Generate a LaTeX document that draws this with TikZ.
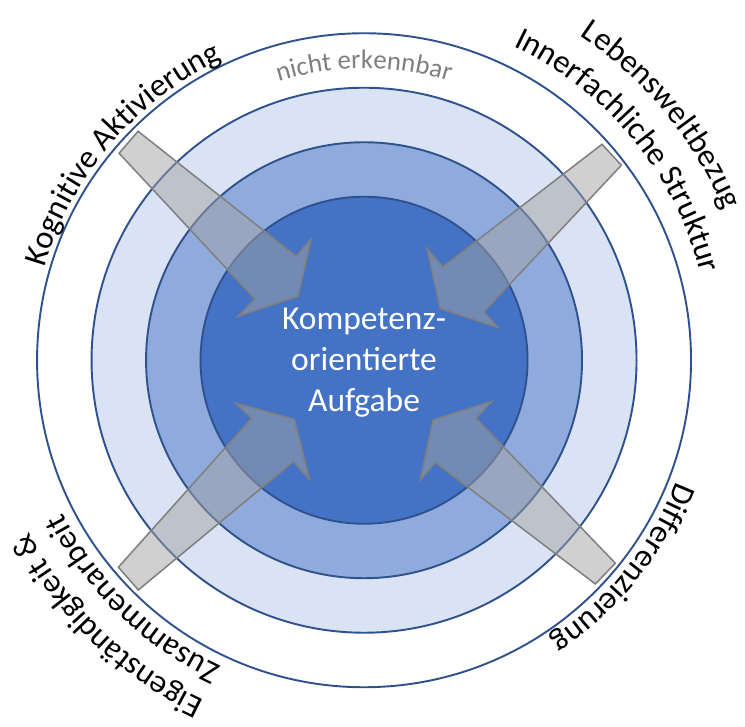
\documentclass[tikz,border=0pt]{standalone}
\usepackage{fontspec}
\setmainfont{Carlito}
\usetikzlibrary{decorations.text}
\definecolor{ringline}{HTML}{2F528F}
\definecolor{ringpale}{HTML}{DAE3F3}
\definecolor{ringmid}{HTML}{8FAADC}
\definecolor{ringcore}{HTML}{4472C4}
\definecolor{arrowfill}{HTML}{A3A3A3}
\definecolor{arrowline}{HTML}{808080}
\definecolor{hintgray}{HTML}{7F7F7F}
\newcommand{\ringfont}{\fontsize{17}{20}\selectfont}
\newcommand{\hintfont}{\fontsize{14}{17}\selectfont}
\tikzset{
  ring/.style={draw=ringline, line width=1pt},
  wedgearrow/.style={fill=arrowfill, fill opacity=0.5, draw=arrowline, line width=0.8pt, line join=miter},
  arctext/.style={decorate, decoration={text along path, text align=center, text={|\ringfont|#1}}}
}
\begin{document}
\begin{tikzpicture}
	\useasboundingbox (-6.68,-6.72) rectangle (6.99,6.61);
	\coordinate (O) at (0,0);

	% rings
	\draw [ring, fill=white] (O) circle (6);
	\draw [ring, fill=ringpale] (O) circle (5);
	\draw [ring, fill=ringmid] (O) circle (4);
	\draw [ring, fill=ringcore] (O) circle (3);

	% arrows towards the centre
	\draw [wedgearrow] (-4.147,4.202) -- (-1.248,1.908) -- (-0.972,2.220) -- (-1.211,1.174)
		-- (-2.312,0.807) -- (-2.000,1.119) -- (-4.495,3.798) -- cycle;% upper left
	\draw [wedgearrow] (4.367,3.963) -- (1.444,1.712) -- (1.156,2.050) -- (1.400,0.949)
		-- (2.459,0.600) -- (2.196,0.886) -- (4.721,3.578) -- cycle;% upper right
	\draw [wedgearrow] (-4.508,-3.798) -- (-2.061,-1.064) -- (-2.349,-0.789) -- (-1.279,-1.083)
		-- (-1.004,-2.183) -- (-1.297,-1.859) -- (-4.141,-4.215) -- cycle;% lower left
	\draw [wedgearrow] (4.611,-3.725) -- (2.055,-1.064) -- (2.336,-0.758) -- (1.266,-1.095)
		-- (1.033,-2.196) -- (1.308,-1.877) -- (4.244,-4.105) -- cycle;% lower right

	% texts on the rings
	\path [decorate, decoration={text along path, text align=center, text color=hintgray,
		text={|\hintfont|nicht erkennbar}}] (130:5.35) arc [start angle=130, end angle=50, radius=5.35];
	\path [arctext={Kognitive Aktivierung}] (179.5:6.1) arc [start angle=179.5, end angle=99.5, radius=6.1];
	\path [arctext={Lebensweltbezug}] (79.5:7.15) arc [start angle=79.5, end angle=-0.5, radius=7.15];
	\path [arctext={Innerfachliche Struktur}] (79.5:6.38) arc [start angle=79.5, end angle=-0.5, radius=6.38];
	\path [arctext={Differenzierung}] (1.3:6.15) arc [start angle=1.3, end angle=-78.7, radius=6.15];
	\path [arctext={Eigenständigkeit {\&}}] (-94:6.9) arc [start angle=-94, end angle=-174, radius=6.9];
	\path [arctext={Zusammenarbeit}] (-94:6.2) arc [start angle=-94, end angle=-174, radius=6.2];

	\node [align=center, text=white, inner sep=0pt, font=\fontsize{17.5}{21.4}\selectfont] (task) at (0,-0.04)
		{Kompetenz-\\orientierte\\Aufgabe};
\end{tikzpicture}
\end{document}
